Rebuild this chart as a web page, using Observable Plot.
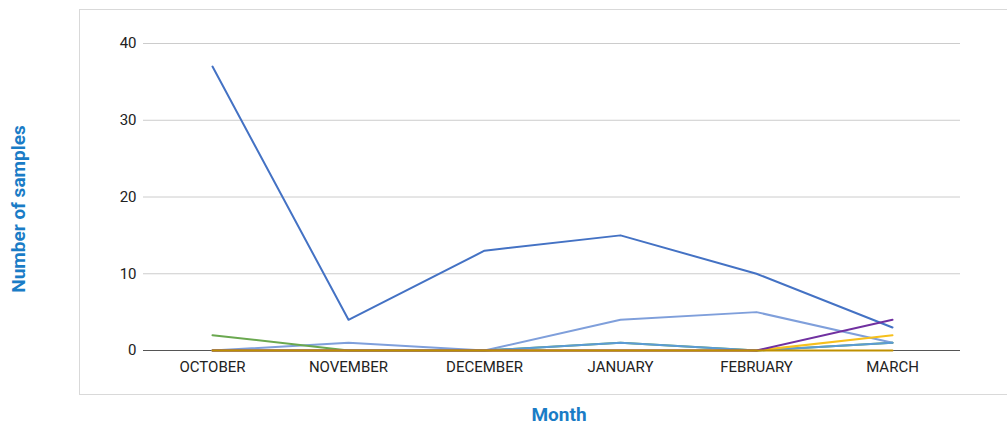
<!DOCTYPE html>
<html>
<head>
<meta charset="utf-8">
<script src="https://cdn.jsdelivr.net/npm/d3@7"></script>
<script src="https://cdn.jsdelivr.net/npm/@observablehq/plot@0.6"></script>
<style>
  html, body { margin: 0; padding: 0; background: #fff; }
  #wrap { position: relative; width: 1008px; height: 425px; overflow: hidden; font-family: Roboto, "Noto Sans", sans-serif; }
  #box { position: absolute; left: 79px; top: 9px; width: 928px; height: 386px; border: 1px solid #d9d9d9; border-right: none; box-sizing: border-box; }
  #ylab { position: absolute; left: 18px; top: 209px; transform: translate(-50%, -50%) rotate(-90deg); color: #1a7cc6; font-weight: bold; font-size: 19px; line-height: 1; white-space: nowrap; }
  #xlab { position: absolute; left: 559px; top: 414px; transform: translate(-50%, -50%); color: #1a7cc6; font-weight: bold; font-size: 19px; line-height: 1; white-space: nowrap; }
  #chart { position: absolute; left: 0; top: 0; }
</style>
</head>
<body>
<div id="wrap">
  <div id="box"></div>
  <div id="chart"></div>
  <div id="ylab">Number of samples</div>
  <div id="xlab">Month</div>
</div>
<script>
const months = ["OCTOBER", "NOVEMBER", "DECEMBER", "JANUARY", "FEBRUARY", "MARCH"];
const yTicks = [0, 10, 20, 30, 40];
const seriesNames = ["A", "B", "C", "D", "E", "F", "G"];
const seriesColors = ["#4472c4", "#7f9fdb", "#6aa84f", "#5b9bd5", "#f6c01c", "#7030a0", "#bf9000"];
const seriesA = [37, 4, 13, 15, 10, 3];
const seriesB = [0, 1, 0, 4, 5, 1];
const seriesC = [2, 0, 0, 1, 0, 1];
const seriesD = [0, 0, 0, 1, 0, 1];
const seriesE = [0, 0, 0, 0, 0, 2];
const seriesF = [0, 0, 0, 0, 0, 4];
const seriesG = [0, 0, 0, 0, 0, 0];

const allSeries = [seriesA, seriesB, seriesC, seriesD, seriesE, seriesF, seriesG];
const rows = [];
allSeries.forEach((vals, si) => vals.forEach((v, mi) => rows.push({series: seriesNames[si], month: months[mi], value: v})));

const chart = Plot.plot({
  width: 1008,
  height: 425,
  marginLeft: 143,
  marginRight: 48,
  marginTop: 43,
  marginBottom: 75,
  style: {fontFamily: "Roboto, 'Noto Sans', sans-serif", fontSize: "15px", color: "#222", background: "transparent"},
  x: {type: "point", domain: months, padding: 0.5, label: null},
  y: {domain: [0, 40], ticks: yTicks, label: null},
  color: {domain: seriesNames, range: seriesColors},
  marks: [
    Plot.gridY(yTicks.filter(t => t > 0), {stroke: "#cccccc", strokeOpacity: 1}),
    Plot.ruleY([0], {stroke: "#555", strokeWidth: 1}),
    Plot.line(rows, {x: "month", y: "value", z: "series", stroke: "series", strokeWidth: 2, curve: "linear"}),
    Plot.axisX({tickSize: 0, tickPadding: 11, fontSize: 15}),
    Plot.axisY({ticks: yTicks, tickSize: 0, tickPadding: 7, fontSize: 15})
  ]
});
document.getElementById("chart").appendChild(chart);
</script>
</body>
</html>
